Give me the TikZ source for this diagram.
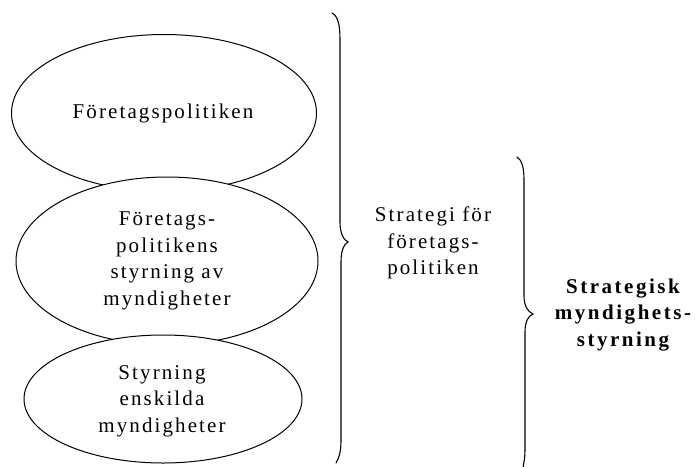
\documentclass[tikz,border=0pt]{standalone}
\usepackage{fontspec}
\setmainfont{Liberation Serif}
\newfontfamily\spaced[LetterSpace=10]{Liberation Serif}
\newfontfamily\spacedbf[LetterSpace=12]{Liberation Serif}
\usetikzlibrary{shapes.geometric}
\begin{document}
\begin{tikzpicture}[x=1pt,y=-1pt,
  lbl/.style={align=center,font=\spaced\fontsize{21}{26.5}\selectfont,inner sep=0pt},
  lblbf/.style={align=center,font=\spacedbf\bfseries\fontsize{21}{26.8}\selectfont,inner sep=0pt},
  bubble/.style={ellipse,draw,fill=white,line width=1pt,inner sep=0pt},
  bracket/.style={line width=1.1pt,line cap=round}]
\useasboundingbox (0,0) rectangle (695,466);

% three stacked, overlapping levels
\node[bubble,minimum width=305pt,minimum height=157pt] (pol) at (164,113) {};
\node[bubble,minimum width=302pt,minimum height=168pt] (aut) at (167,261) {};
\node[bubble,minimum width=278pt,minimum height=128pt] (ind) at (163,399) {};

\node[lbl] (tpol) at (163,113) {Företagspolitiken};
\node[lbl] (taut) at (167,261) {Företags-\\politikens\\styrning av\\myndigheter};
\node[lbl] (tind) at (162,401) {Styrning\\enskilda\\myndigheter};

% large brace over all three levels
\draw[bracket] (332,13) .. controls (338,16) and (340,25) .. (340,40)
  -- (340,222) .. controls (340,234) and (344,240) .. (348,242)
  .. controls (344,244) and (341,250) .. (341,262)
  -- (341,440) .. controls (341,452) and (339,458) .. (336,463);
\node[lbl] (tstrat) at (433,243) {Strategi för\\företags-\\politiken};

% smaller brace on the right
\draw[bracket] (517,157) .. controls (522,160) and (524,168) .. (524,180)
  -- (524,296) .. controls (524,306) and (528,312) .. (533,314)
  .. controls (528,316) and (525,322) .. (525,332)
  -- (525,448) .. controls (525,458) and (524,463) .. (522,472);
\node[lblbf] (tsms) at (623,315) {Strategisk\\myndighets-\\styrning};
\end{tikzpicture}
\end{document}
